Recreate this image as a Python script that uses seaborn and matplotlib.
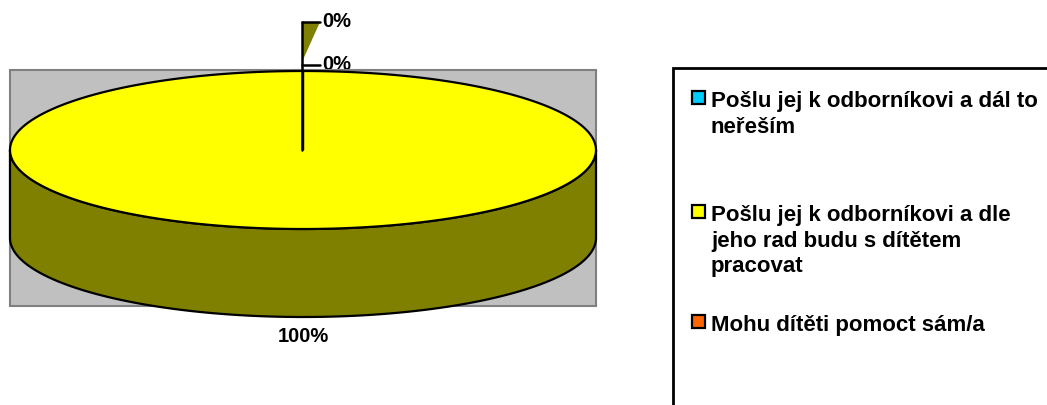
import numpy as np
import matplotlib
matplotlib.use("Agg")
import matplotlib.pyplot as plt
from matplotlib.patches import Polygon, Rectangle
import seaborn as sns

# ---- data ----
categories = [
    "Pošlu jej k odborníkovi a dál to\nneřeším",
    "Pošlu jej k odborníkovi a dle\njeho rad budu s dítětem\npracovat",
    "Mohu dítěti pomoct sám/a",
]
values = [0, 100, 0]
top_colors = ["#00CCFF", "#FFFF00", "#FF6600"]
side_colors = ["#006680", "#808000", "#803300"]

sns.set_theme(style="white")
plt.rcParams["font.family"] = ["Liberation Sans", "DejaVu Sans"]
plt.rcParams["font.weight"] = "bold"

W, H = 1047, 405
fig = plt.figure(figsize=(W / 100, H / 100), dpi=100)
ax = fig.add_axes([0, 0, 1, 1])
ax.set_xlim(0, W)
ax.set_ylim(H, 0)
ax.axis("off")

# plot area
ax.add_patch(Rectangle((10, 70), 586, 236, facecolor="#C0C0C0",
                       edgecolor="#808080", lw=1.5, zorder=1))

cx, cy, a, b, depth = 303, 150, 293, 79, 88
total = float(sum(values))
fracs = [v / total for v in values]


def arc(t1, t2, n=400):
    t = np.radians(np.linspace(t1, t2, n))
    return cx + a * np.cos(t), cy - b * np.sin(t)


start = 90.0
wedges = []
for f, tc, sc in zip(fracs, top_colors, side_colors):
    end = start - 360 * f
    wedges.append((start, end, tc, sc, f))
    start = end

# side walls (front half only)
for s, e, tc, sc, f in wedges:
    if f <= 0:
        continue
    lo, hi = min(s, e), max(s, e)
    for k in range(-1, 2):
        f1, f2 = 180 + 360 * k, 360 + 360 * k
        l2, h2 = max(lo, f1), min(hi, f2)
        if h2 > l2:
            xs, ys = arc(l2, h2)
            pts = np.vstack([np.column_stack([xs, ys]),
                             np.column_stack([xs[::-1], ys[::-1] + depth])])
            ax.add_patch(Polygon(pts, closed=True, facecolor=sc,
                                 edgecolor="black", lw=1.6, zorder=3))

# top faces
for s, e, tc, sc, f in wedges:
    if f <= 0:
        continue
    xs, ys = arc(s, e)
    pts = np.vstack([[cx, cy], np.column_stack([xs, ys]), [cx, cy]])
    ax.add_patch(Polygon(pts, closed=True, facecolor=tc,
                         edgecolor="black", lw=1.6, zorder=4))

# data labels
lbl_kw = dict(fontsize=14.5, fontweight="bold", color="black")
zero_idx = [i for i, v in enumerate(values) if v == 0]
stack_y = [65, 22]
lx = cx - 1
for j, i in enumerate(zero_idx):
    y = stack_y[j]
    ax.plot([lx, lx + 18], [y, y], color="black", lw=1.8, zorder=5)
    ax.text(lx + 20, y - 0.5, f"{values[i] / total:.0%}", ha="left", va="center",
            zorder=0.5 if j == 0 else 5, **lbl_kw)
if zero_idx:
    ax.plot([lx, lx], [cy, stack_y[-1]], color="black", lw=1.8, zorder=5)
    ax.add_patch(Polygon([[lx, stack_y[-1]], [lx + 18, stack_y[-1]], [lx, stack_y[0] - 3]],
                         closed=True, facecolor=side_colors[1], edgecolor="none",
                         zorder=4.5))
for s, e, tc, sc, f in wedges:
    if f <= 0:
        continue
    mid = np.radians((s + e) / 2)
    x = cx + a * np.cos(mid)
    y = cy - b * np.sin(mid) + depth + 20
    ax.text(x, y, f"{f:.0%}", ha="center", va="center", zorder=5, **lbl_kw)

# legend
ax.add_patch(Rectangle((673, 68), 400, 400, facecolor="white",
                       edgecolor="black", lw=2, zorder=2))
first_baseline = [107, 221, 331]
line_step = 25.7
for cat, col, y0 in zip(categories, top_colors, first_baseline):
    ax.add_patch(Rectangle((692, y0 - 16), 13, 13, facecolor=col,
                           edgecolor="black", lw=1.6, zorder=3))
    for k, line in enumerate(cat.split("\n")):
        ax.text(711, y0 + k * line_step, line, ha="left", va="baseline",
                fontsize=16, fontweight="bold", color="black", zorder=3)

fig.savefig("out.png", dpi=100)
